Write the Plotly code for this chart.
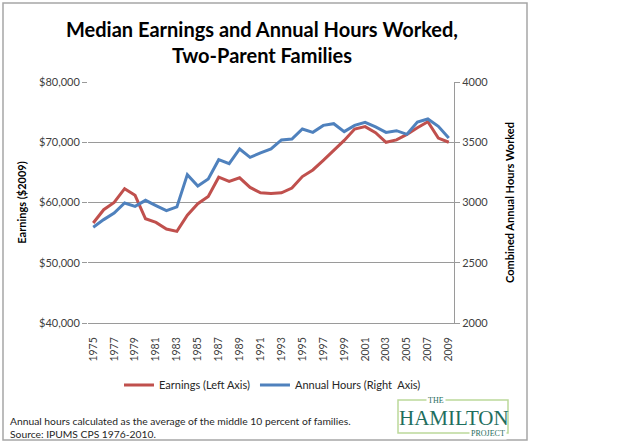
import plotly.graph_objects as go

years = list(range(1975, 2010))

earnings = [56600, 58800, 60000, 62300, 61200, 57300, 56700, 55600, 55200, 57900,
            59800, 61000, 64200, 63500, 64100, 62500, 61600, 61500, 61600, 62400,
            64300, 65400, 67000, 68600, 70300, 72200, 72600, 71600, 70000, 70400,
            71300, 72400, 73400, 70700, 70000]

hours = [2795, 2858, 2913, 2996, 2968, 3018, 2974, 2932, 2963, 3231,
         3137, 3195, 3355, 3322, 3444, 3375, 3411, 3444, 3519, 3527,
         3610, 3582, 3640, 3654, 3588, 3640, 3665, 3627, 3582, 3596,
         3566, 3668, 3693, 3632, 3535]

tick_years = list(range(1975, 2010, 2))

# plot area in pixels: x 88..454, y 82..323
L, R, T, B = 88, 454, 82, 323


def px(x):
    return (x - L) / (R - L)


def py(y):
    return (B - y) / (B - T)


FONT = "Lato, 'Open Sans', sans-serif"
SERIF = "'Liberation Serif', serif"
GRID = "#9a9a9a"
LOGO = "#1f6e5e"

fig = go.Figure()
fig.add_trace(go.Scatter(
    x=years, y=earnings, name="Earnings (Left Axis)", mode="lines",
    line=dict(color="#C0504D", width=3), yaxis="y"))
fig.add_trace(go.Scatter(
    x=years, y=hours, name="Annual Hours (Right  Axis)", mode="lines",
    line=dict(color="#4F81BD", width=3), yaxis="y2"))

fig.update_layout(
    width=631, height=446,
    margin=dict(l=L, r=631 - R, t=T, b=446 - B),
    paper_bgcolor="white", plot_bgcolor="white",
    font=dict(family=FONT, size=11, color="#404040"),
    showlegend=True,
    legend=dict(orientation="h", x=px(119), y=py(385), xanchor="left", yanchor="middle",
                font=dict(size=11, color="#262626"), bgcolor="rgba(0,0,0,0)",
                itemwidth=30),
    xaxis=dict(range=[1974.5, 2009.5], tickmode="array", tickvals=tick_years,
               tickangle=-90, showgrid=False, showline=True, linecolor=GRID,
               ticks="outside", ticklen=9, tickcolor="rgba(0,0,0,0)",
               zeroline=False, automargin=False,
               tickfont=dict(size=10.5, color="#404040")),
    yaxis=dict(range=[40000, 80000], dtick=10000, tickformat="$,.0f",
               showgrid=True, gridcolor=GRID, gridwidth=1, zeroline=False,
               showline=False, ticks="outside", ticklen=5, tickcolor=GRID,
               automargin=False,
               title=dict(text="<b>Earnings ($2009)</b>", font=dict(size=11, color="black"),
                          standoff=10)),
    yaxis2=dict(range=[2000, 4000], dtick=500, overlaying="y", side="right",
                showgrid=False, zeroline=False, showline=True, linecolor=GRID,
                ticks="outside", ticklen=5, tickcolor=GRID, automargin=False,
                title=dict(text="<b>Combined Annual Hours Worked</b>",
                           font=dict(size=11, color="black"), standoff=18)),
)

fig.add_annotation(
    x=px(262), y=py(42), xref="paper", yref="paper", showarrow=False,
    text="<b>Median Earnings and Annual Hours Worked,<br>Two-Parent Families</b>",
    font=dict(size=20, color="black", family=FONT), align="center",
    xanchor="center", yanchor="middle")

fig.add_annotation(
    x=px(8), y=py(427), xref="paper", yref="paper", showarrow=False,
    xanchor="left", yanchor="middle", align="left",
    text="Annual hours calculated as the average of the middle 10 percent of families."
         "<br>Source: IPUMS CPS 1976-2010.",
    font=dict(size=10.3, color="#262626"))

# outer chart border
fig.add_shape(type="rect", xref="paper", yref="paper",
              x0=px(3), x1=px(527), y0=py(440), y1=py(3),
              line=dict(color="#a6a6a6", width=1.5))

# Hamilton Project logo
fig.add_shape(type="rect", xref="paper", yref="paper",
              x0=px(398), x1=px(508), y0=py(433), y1=py(400),
              line=dict(color="#bcd99a", width=1.5))
fig.add_annotation(x=px(454), y=py(418), xref="paper", yref="paper", showarrow=False,
                   text="HAMILTON", font=dict(family=SERIF, size=21, color=LOGO),
                   xanchor="center", yanchor="middle")
fig.add_annotation(x=px(436), y=py(400), xref="paper", yref="paper", showarrow=False,
                   text="THE", font=dict(family=SERIF, size=8, color=LOGO),
                   xanchor="center", yanchor="middle", bgcolor="white", borderpad=1)
fig.add_annotation(x=px(488), y=py(433), xref="paper", yref="paper", showarrow=False,
                   text="PROJECT", font=dict(family=SERIF, size=8, color=LOGO),
                   xanchor="center", yanchor="middle", bgcolor="white", borderpad=1)

fig.write_html("out.html", config=dict(displayModeBar=False),
               post_script="document.body.style.margin = '0';")
